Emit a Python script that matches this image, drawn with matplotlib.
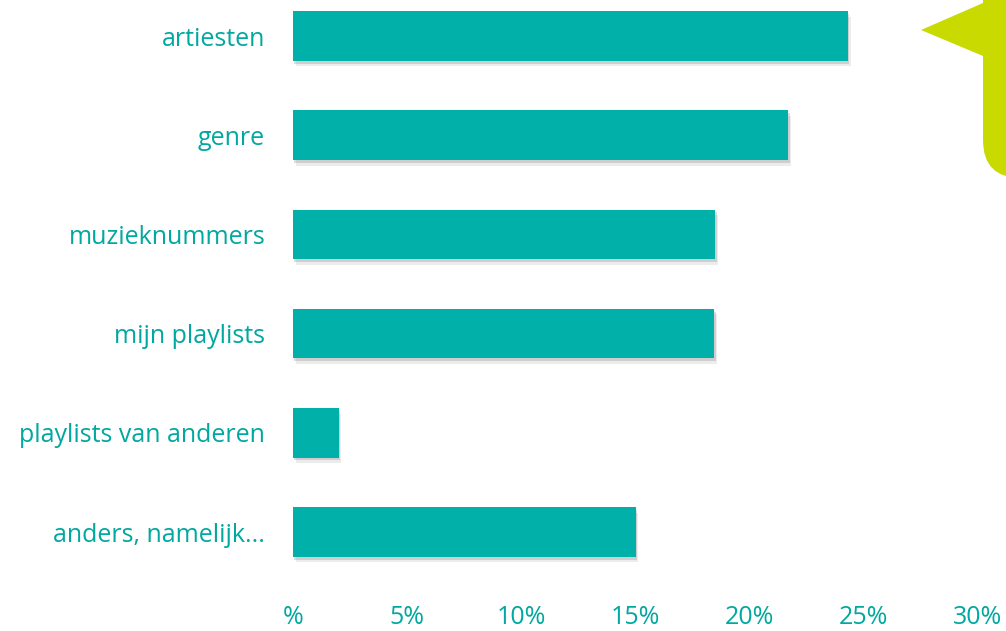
import matplotlib
matplotlib.use("Agg")
import matplotlib.pyplot as plt
import matplotlib.patheffects as pe
from matplotlib.path import Path
from matplotlib.patches import PathPatch

# data
categories = ["artiesten", "genre", "muzieknummers", "mijn playlists",
              "playlists van anderen", "anders, namelijk..."]
values = [24.3, 21.7, 18.5, 18.45, 2.0, 15.0]
xticks = [0, 5, 10, 15, 20, 25, 30]
xticklabels = ["%", "5%", "10%", "15%", "20%", "25%", "30%"]

TEAL = "#00B0A9"
TEXT = "#00A89F"
LIME = "#C8DA00"

W, H = 1006, 631
fig = plt.figure(figsize=(W / 100, H / 100), dpi=100)

# axes placed in pixel terms: x 0% at 293px, 30% at 978px
top_px, bot_px = 0, 592
ax = fig.add_axes([293 / W, 1 - bot_px / H, (978 - 293) / W, (bot_px - top_px) / H])

pos = list(range(len(categories)))
bars = ax.barh(pos, values, height=0.5, color=TEAL, zorder=3)
for b in bars:
    b.set_path_effects([
        pe.SimplePatchShadow(offset=(2, -4), shadow_rgbFace="#999999", alpha=0.18),
        pe.SimplePatchShadow(offset=(1, -2), shadow_rgbFace="#777777", alpha=0.25),
        pe.Normal(),
    ])

# row spacing ~99.2px, first bar center at 36px
step = 99.2
ax.set_ylim((bot_px - 36) / step, (top_px - 36) / step)
ax.set_xlim(0, 30)

ax.set_yticks(pos)
ax.set_yticklabels(categories)
ax.set_xticks(xticks)
ax.set_xticklabels(xticklabels)
ax.tick_params(axis="both", length=0, colors=TEXT, labelsize=18)
ax.tick_params(axis="y", pad=20)
ax.tick_params(axis="x", pad=9)
for lab in ax.get_xticklabels() + ax.get_yticklabels():
    lab.set_fontfamily("Open Sans")
for s in ax.spines.values():
    s.set_visible(False)

# lime callout shape at top right, in pixel coordinates
def px(x, y):
    return (x / W, 1 - y / H)

r = 38
verts = [px(1006, -5), px(983, -5), px(983, 3), px(921, 30), px(983, 56),
         px(983, 178 - r), px(983, 178), px(983 + r, 178), px(1006, 178),
         px(1006, -5)]
codes = [Path.MOVETO, Path.LINETO, Path.LINETO, Path.LINETO, Path.LINETO,
         Path.LINETO, Path.CURVE3, Path.CURVE3, Path.LINETO, Path.CLOSEPOLY]
fig.patches.append(PathPatch(Path(verts, codes), transform=fig.transFigure,
                             facecolor=LIME, edgecolor="none"))

fig.savefig("out.png", dpi=100)
